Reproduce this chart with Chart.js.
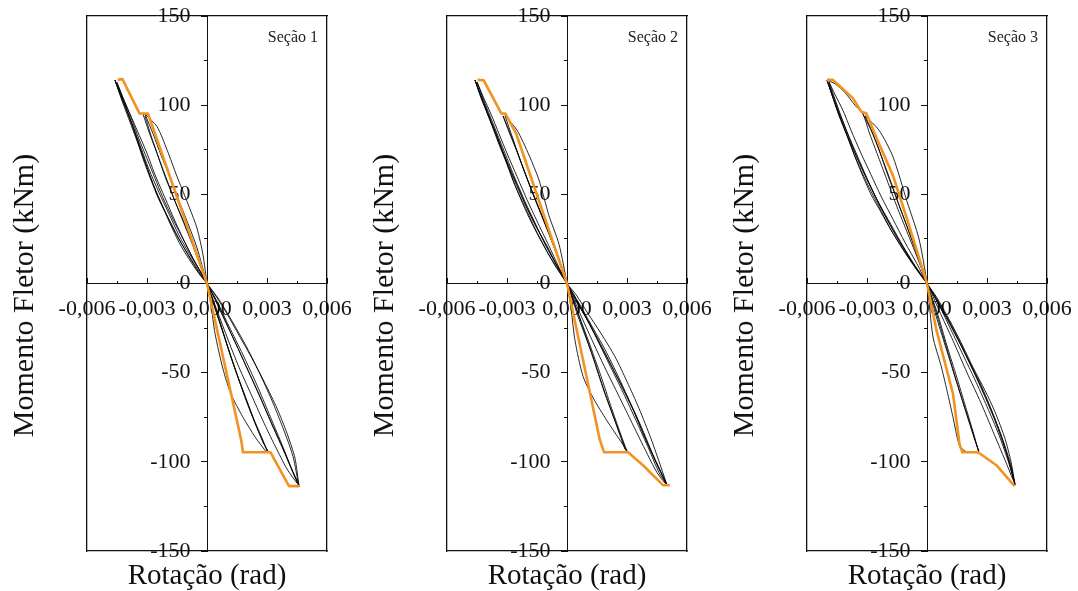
<!DOCTYPE html>
<html lang="pt">
<head>
<meta charset="utf-8">
<title>Momento Fletor x Rotação</title>
<script src="https://cdn.jsdelivr.net/npm/chart.js@4.4.1/dist/chart.umd.min.js"></script>
<style>
  html, body { margin: 0; padding: 0; background: #fff; overflow: hidden; }
  #wrap { position: relative; width: 1078px; height: 591px; }
  .panel { position: absolute; top: 0; width: 360px; height: 591px; }
</style>
</head>
<body>
<div id="wrap">
  <div class="panel" style="left:0"><canvas id="sec1" width="360" height="591"></canvas></div>
  <div class="panel" style="left:360px"><canvas id="sec2" width="360" height="591"></canvas></div>
  <div class="panel" style="left:720px"><canvas id="sec3" width="360" height="591"></canvas></div>
</div>
<script>
// Tick positions (rad / kNm)
const xMajorTicks = [-0.006, -0.003, 0, 0.003, 0.006];
const xMinorTicks = [-0.0045, -0.0015, 0.0015, 0.0045];
const yMajorTicks = [-150, -100, -50, 0, 50, 100, 150];
const yMinorTicks = [-125, -75, -25, 25, 75, 125];

// Points are [rotação (rad), momento (kNm)]
// Seção 1
const sec1Envelope = [[-0.00447, 114.2], [-0.00423, 114.6], [-0.00337, 95.3], [-0.00295, 95.3], [0, 0],
  [0.00172, -88.4], [0.0018, -94.6], [0.00317, -94.6], [0.0041, -113.6], [0.00464, -113.6]];
const sec1Cycles = [
  [[-0.0046, 114], [-0.0042, 102], [-0.0037, 88], [-0.0033, 75], [-0.0029, 62], [-0.0025, 50], [-0.0021, 40], [-0.0017, 30], [-0.0013, 21], [-0.0008, 12], [-0.0003, 4], [0, 0],
   [0.0005, -8], [0.0010, -17], [0.0016, -29], [0.0023, -43], [0.0029, -56], [0.0035, -70], [0.0040, -84], [0.0044, -98], [0.0046, -114]],
  [[-0.0046, 114], [-0.0041, 100], [-0.0036, 84], [-0.0032, 70], [-0.0028, 58], [-0.0024, 47], [-0.0019, 36], [-0.0014, 25], [-0.0009, 15], [-0.0004, 6], [0, 0],
   [0.0004, -9], [0.0009, -21], [0.0015, -35], [0.0021, -50], [0.0027, -65], [0.0033, -80], [0.0039, -95], [0.0043, -106], [0.0046, -114]],
  [[-0.0045, 112], [-0.0040, 99], [-0.0035, 86], [-0.0030, 73], [-0.0026, 61], [-0.0021, 48], [-0.0016, 35], [-0.0011, 23], [-0.0006, 12], [0, 0],
   [0.0004, -12], [0.0010, -30], [0.0016, -47], [0.0022, -62], [0.0028, -77], [0.0034, -91], [0.0040, -104], [0.0045, -112]],
  [[-0.0032, 95], [-0.0029, 85], [-0.0025, 73], [-0.0021, 60], [-0.0017, 49], [-0.0012, 35], [-0.0007, 21], [-0.0003, 9], [0, 0],
   [0.0004, -14], [0.0009, -31], [0.0014, -48], [0.0019, -63], [0.0024, -78], [0.0028, -89], [0.0031, -95]],
  [[-0.0031, 94], [-0.0028, 83], [-0.0024, 70], [-0.0020, 58], [-0.0016, 46], [-0.0011, 33], [-0.0006, 19], [-0.0002, 7], [0, 0],
   [0.0005, -16], [0.0011, -38], [0.0017, -57], [0.0023, -75], [0.0028, -88], [0.0030, -94]],
  [[-0.0031, 95], [-0.0025, 88], [-0.0020, 75], [-0.0015, 60], [-0.0010, 46], [-0.0005, 31], [-0.0002, 16], [0, 0],
   [0.0002, -12], [0.0004, -28], [0.0008, -48], [0.0012, -62], [0.0018, -75], [0.0024, -86], [0.0030, -95]],
  [[-0.0046, 114], [-0.0043, 104], [-0.0039, 92], [-0.0035, 80], [-0.0031, 68], [-0.0027, 56], [-0.0022, 43], [-0.0017, 31], [-0.0012, 21], [-0.0007, 12], [-0.0003, 5], [0, 0],
   [0.0006, -9], [0.0013, -22], [0.0020, -36], [0.0027, -52], [0.0033, -67], [0.0039, -84], [0.0043, -97], [0.0046, -114]],
  [[-0.0046, 114], [-0.0040, 97], [-0.0034, 79], [-0.0029, 64], [-0.0024, 51], [-0.0019, 39], [-0.0014, 27], [-0.0009, 17], [-0.0004, 8], [0, 0],
   [0.0005, -10], [0.0011, -24], [0.0018, -40], [0.0025, -57], [0.0031, -73], [0.0037, -89], [0.0042, -103], [0.0046, -113]],
  [[-0.0045, 113], [-0.0042, 104], [-0.0038, 93], [-0.0034, 81], [-0.0030, 70], [-0.0026, 59], [-0.0022, 48], [-0.0017, 36], [-0.0012, 25], [-0.0007, 14], [0, 0],
   [0.0006, -13], [0.0012, -28], [0.0019, -45], [0.0026, -62], [0.0032, -78], [0.0038, -93], [0.0043, -106], [0.0046, -113]],
  [[-0.0031, 95], [-0.0027, 84], [-0.0023, 72], [-0.0019, 61], [-0.0015, 49], [-0.0010, 35], [-0.0005, 20], [0, 0],
   [0.0005, -17], [0.0010, -34], [0.0015, -51], [0.0020, -67], [0.0025, -81], [0.0029, -91], [0.0031, -95]]
];

// Seção 2
const sec2Envelope = [[-0.00447, 114.2], [-0.00417, 114], [-0.00328, 95.3], [-0.00308, 95.3], [-0.00253, 83.7], [0, 0],
  [0.00163, -87.2], [0.00185, -94.6], [0.00305, -94.6], [0.0038, -101.9], [0.0048, -113.1], [0.00514, -113.1]];
const sec2Cycles = [
  [[-0.0046, 114], [-0.0043, 104], [-0.0039, 93], [-0.0035, 82], [-0.0031, 70], [-0.0027, 58], [-0.0023, 47], [-0.0019, 37], [-0.0014, 26], [-0.0009, 16], [-0.0004, 7], [0, 0],
   [0.0005, -7], [0.0010, -16], [0.0017, -28], [0.0024, -41], [0.0030, -55], [0.0036, -70], [0.0042, -87], [0.0047, -103], [0.0050, -113]],
  [[-0.0046, 114], [-0.0042, 102], [-0.0038, 90], [-0.0034, 78], [-0.0030, 67], [-0.0026, 55], [-0.0021, 43], [-0.0016, 31], [-0.0011, 20], [-0.0006, 10], [0, 0],
   [0.0006, -11], [0.0012, -23], [0.0019, -37], [0.0026, -53], [0.0032, -68], [0.0038, -84], [0.0044, -99], [0.0050, -113]],
  [[-0.0045, 113], [-0.0041, 101], [-0.0036, 87], [-0.0031, 73], [-0.0026, 59], [-0.0021, 46], [-0.0016, 34], [-0.0011, 22], [-0.0005, 10], [0, 0],
   [0.0005, -13], [0.0011, -28], [0.0018, -45], [0.0025, -61], [0.0032, -77], [0.0039, -93], [0.0045, -106], [0.0049, -112]],
  [[-0.0032, 94], [-0.0029, 85], [-0.0025, 74], [-0.0021, 62], [-0.0017, 50], [-0.0012, 36], [-0.0007, 22], [-0.0003, 10], [0, 0],
   [0.0004, -12], [0.0009, -28], [0.0014, -45], [0.0019, -62], [0.0024, -77], [0.0028, -89], [0.0030, -95]],
  [[-0.0031, 94], [-0.0027, 81], [-0.0023, 68], [-0.0019, 56], [-0.0014, 42], [-0.0009, 28], [-0.0004, 13], [0, 0],
   [0.0006, -20], [0.0013, -41], [0.0018, -58], [0.0023, -74], [0.0029, -93]],
  [[-0.0031, 94], [-0.0025, 86], [-0.0019, 72], [-0.0014, 58], [-0.0009, 38], [-0.0004, 22], [0, 0],
   [0.0002, -14], [0.0004, -32], [0.0008, -52], [0.0013, -64], [0.0020, -77], [0.0026, -87], [0.0030, -94]],
  [[-0.0046, 114], [-0.0040, 97], [-0.0034, 80], [-0.0029, 65], [-0.0024, 52], [-0.0019, 40], [-0.0013, 27], [-0.0007, 14], [0, 0],
   [0.0007, -14], [0.0014, -29], [0.0021, -45], [0.0028, -61], [0.0035, -78], [0.0041, -93], [0.0046, -106], [0.0050, -113]],
  [[-0.0046, 114], [-0.0041, 99], [-0.0036, 85], [-0.0031, 71], [-0.0026, 58], [-0.0021, 45], [-0.0016, 33], [-0.0010, 21], [-0.0005, 10], [0, 0],
   [0.0006, -12], [0.0013, -26], [0.0020, -41], [0.0027, -57], [0.0034, -73], [0.0040, -89], [0.0046, -104], [0.0050, -113]],
  [[-0.0032, 94], [-0.0028, 83], [-0.0024, 71], [-0.0020, 59], [-0.0015, 45], [-0.0010, 31], [-0.0005, 16], [0, 0],
   [0.0005, -15], [0.0011, -33], [0.0017, -52], [0.0022, -69], [0.0027, -85], [0.0030, -94]],
  [[-0.0045, 113], [-0.0042, 105], [-0.0038, 95], [-0.0034, 84], [-0.0030, 73], [-0.0025, 60], [-0.0020, 47], [-0.0015, 35], [-0.0009, 21], [-0.0004, 9], [0, 0],
   [0.0004, -9], [0.0010, -20], [0.0016, -33], [0.0023, -48], [0.0030, -63], [0.0037, -80], [0.0043, -96], [0.0048, -108], [0.0050, -113]]
];

// Seção 3
const sec3Envelope = [[-0.005, 114.2], [-0.0047, 114.2], [-0.0044, 111], [-0.0037, 103.8], [-0.00328, 96.4], [-0.00303, 95.3],
  [-0.00253, 81.7], [-0.0017, 60.5], [-0.00103, 37.3], [0, 0], [0.00047, -26], [0.0013, -61.8], [0.00163, -90.3],
  [0.00177, -94.6], [0.00255, -94.6], [0.00347, -101.9], [0.00438, -113.6]];
const sec3Cycles = [
  [[-0.0050, 114], [-0.0047, 104], [-0.0044, 94], [-0.0040, 83], [-0.0036, 71], [-0.0032, 60], [-0.0028, 50], [-0.0023, 40], [-0.0018, 30], [-0.0012, 19], [-0.0006, 9], [0, 0],
   [0.0005, -8], [0.0011, -20], [0.0017, -33], [0.0023, -47], [0.0029, -60], [0.0034, -72], [0.0039, -87], [0.0042, -100], [0.0044, -113]],
  [[-0.0050, 114], [-0.0046, 101], [-0.0042, 89], [-0.0038, 77], [-0.0034, 66], [-0.0029, 54], [-0.0024, 43], [-0.0019, 32], [-0.0013, 21], [-0.0007, 11], [0, 0],
   [0.0006, -12], [0.0012, -26], [0.0018, -40], [0.0024, -54], [0.0030, -69], [0.0036, -85], [0.0041, -101], [0.0044, -113]],
  [[-0.0049, 112], [-0.0045, 99], [-0.0040, 85], [-0.0035, 72], [-0.0030, 59], [-0.0025, 47], [-0.0020, 36], [-0.0014, 24], [-0.0008, 13], [0, 0],
   [0.0006, -15], [0.0013, -32], [0.0020, -50], [0.0027, -67], [0.0033, -83], [0.0039, -99], [0.0043, -110]],
  [[-0.0050, 114], [-0.0046, 112], [-0.0041, 107], [-0.0036, 100], [-0.0032, 95], [-0.0029, 85], [-0.0025, 73], [-0.0020, 58], [-0.0015, 43], [-0.0010, 29], [-0.0005, 15], [0, 0],
   [0.0004, -14], [0.0009, -33], [0.0014, -52], [0.0019, -70], [0.0023, -84], [0.0026, -95]],
  [[-0.0031, 94], [-0.0027, 84], [-0.0023, 72], [-0.0019, 60], [-0.0014, 44], [-0.0009, 29], [-0.0004, 14], [0, 0],
   [0.0005, -20], [0.0010, -38], [0.0015, -56], [0.0020, -74], [0.0024, -88], [0.0026, -94]],
  [[-0.0031, 94], [-0.0024, 86], [-0.0017, 71], [-0.0010, 46], [-0.0004, 25], [0, 0],
   [0.0003, -30], [0.0007, -46], [0.0010, -60], [0.0013, -75], [0.0016, -90], [0.0019, -94], [0.0026, -95]],
  [[-0.0049, 113], [-0.0044, 97], [-0.0039, 82], [-0.0034, 68], [-0.0029, 56], [-0.0024, 45], [-0.0018, 33], [-0.0012, 21], [-0.0006, 10], [0, 0],
   [0.0007, -13], [0.0014, -28], [0.0021, -44], [0.0028, -61], [0.0034, -77], [0.0040, -96], [0.0044, -112]],
  [[-0.0050, 114], [-0.0045, 98], [-0.0041, 86], [-0.0036, 73], [-0.0031, 61], [-0.0026, 49], [-0.0021, 38], [-0.0015, 26], [-0.0009, 15], [-0.0004, 6], [0, 0],
   [0.0006, -11], [0.0013, -25], [0.0020, -41], [0.0027, -57], [0.0033, -73], [0.0038, -88], [0.0042, -102], [0.0044, -113]],
  [[-0.0032, 95], [-0.0028, 86], [-0.0024, 75], [-0.0020, 62], [-0.0015, 47], [-0.0010, 32], [-0.0005, 16], [0, 0],
   [0.0005, -16], [0.0010, -35], [0.0015, -53], [0.0019, -68], [0.0023, -83], [0.0026, -95]],
  [[-0.0049, 113], [-0.0046, 106], [-0.0042, 97], [-0.0038, 86], [-0.0033, 73], [-0.0028, 61], [-0.0023, 49], [-0.0017, 36], [-0.0011, 23], [-0.0005, 11], [0, 0],
   [0.0005, -10], [0.0011, -22], [0.0018, -37], [0.0025, -53], [0.0031, -68], [0.0037, -85], [0.0041, -100], [0.0044, -113]]
];

const serif = '"Liberation Serif", "Times New Roman", serif';
const ink = '#111';

// Draws "Seção N" in the upper right corner of the plot frame
const sectionLabel = {
  id: 'sectionLabel',
  afterDatasetsDraw(chart, args, opts) {
    const { ctx, chartArea } = chart;
    ctx.save();
    ctx.font = '16px ' + serif;
    ctx.fillStyle = '#222';
    ctx.textAlign = 'right';
    ctx.textBaseline = 'alphabetic';
    ctx.fillText(opts.text, chartArea.right - 9, chartArea.top + 26);
    ctx.restore();
  }
};

function setTicks(scale, list) {
  scale.ticks = list.map(v => ({ value: v }));
}

function fmtRot(v) {
  const r = Math.abs(v) < 1e-9 ? 0 : v;
  return r.toFixed(3).replace('.', ',');
}

// axes crossing at the origin take no room in the layout
function noRoom(s) {
  if (s.isHorizontal()) s.height = 0; else s.width = 0;
  s.paddingLeft = 0;
  s.paddingRight = 0;
  s.paddingTop = 0;
  s.paddingBottom = 0;
}

// border-only axis used to draw one side of the frame
function frameAxis(position, size, title) {
  return {
    type: 'linear', position: position, min: -1, max: 1,
    ticks: { display: false },
    grid: { drawOnChartArea: false, drawTicks: false },
    border: { color: ink, width: 1.3 },
    title: title ? { display: true, text: title, color: ink, padding: 0,
      font: { family: serif, size: 29, lineHeight: 1 } } : { display: false },
    afterFit: s => { if (s.isHorizontal()) s.height = size; else s.width = size; }
  };
}

function makeChart(id, label, envelope, cycles) {
  const datasets = [{ data: envelope, borderColor: '#f29321', borderWidth: 2.6, tension: 0 }];
  cycles.forEach(c => {
    datasets.push({ data: c, borderColor: 'rgba(0,0,0,0.85)', borderWidth: 1, tension: 0.25 });
  });

  const tickFont = { family: serif, size: 22 };

  return new Chart(document.getElementById(id), {
    type: 'line',
    data: { datasets: datasets },
    options: {
      responsive: false,
      animation: false,
      events: [],
      elements: { point: { radius: 0 }, line: { borderJoinStyle: 'round' } },
      layout: { padding: 0 },
      scales: {
        x: {
          type: 'linear', min: -0.006, max: 0.006, position: { y: 0 },
          afterBuildTicks: s => setTicks(s, xMajorTicks),
          afterFit: noRoom,
          grid: { drawOnChartArea: false, tickLength: -6, tickColor: ink },
          border: { color: ink, width: 1 },
          ticks: { autoSkip: false, maxRotation: 0, minRotation: 0, padding: 19, color: ink, font: tickFont,
            callback: v => fmtRot(v) }
        },
        y: {
          type: 'linear', min: -150, max: 150, position: { x: 0 },
          afterBuildTicks: s => setTicks(s, yMajorTicks),
          afterFit: noRoom,
          grid: { drawOnChartArea: false, tickLength: 6, tickColor: ink },
          border: { color: ink, width: 1 },
          ticks: { padding: 0, color: ink, font: tickFont, callback: v => v + '   ' }
        },
        xMinor: {
          type: 'linear', min: -0.006, max: 0.006, position: { y: 0 },
          afterBuildTicks: s => setTicks(s, xMinorTicks),
          afterFit: noRoom,
          grid: { drawOnChartArea: false, tickLength: -3, tickColor: ink },
          border: { display: false },
          ticks: { display: false }
        },
        yMinor: {
          type: 'linear', min: -150, max: 150, position: { x: 0 },
          afterBuildTicks: s => setTicks(s, yMinorTicks),
          afterFit: noRoom,
          grid: { drawOnChartArea: false, tickLength: 3, tickColor: ink },
          border: { display: false },
          ticks: { display: false }
        },
        xTop: frameAxis('top', 16),
        xBottom: frameAxis('bottom', 40, 'Rotação (rad)'),
        yLeft: frameAxis('left', 0),
        yRight: frameAxis('right', 33)
      },
      plugins: {
        legend: { display: false },
        tooltip: { enabled: false },
        title: {
          display: true, position: 'left', text: 'Momento Fletor (kNm)', color: ink,
          font: { family: serif, size: 30, weight: 'normal', lineHeight: 1 },
          padding: { top: 10, bottom: 47 }
        },
        sectionLabel: { text: label }
      }
    },
    plugins: [sectionLabel]
  });
}

makeChart('sec1', 'Seção 1', sec1Envelope, sec1Cycles);
makeChart('sec2', 'Seção 2', sec2Envelope, sec2Cycles);
makeChart('sec3', 'Seção 3', sec3Envelope, sec3Cycles);
</script>
</body>
</html>
